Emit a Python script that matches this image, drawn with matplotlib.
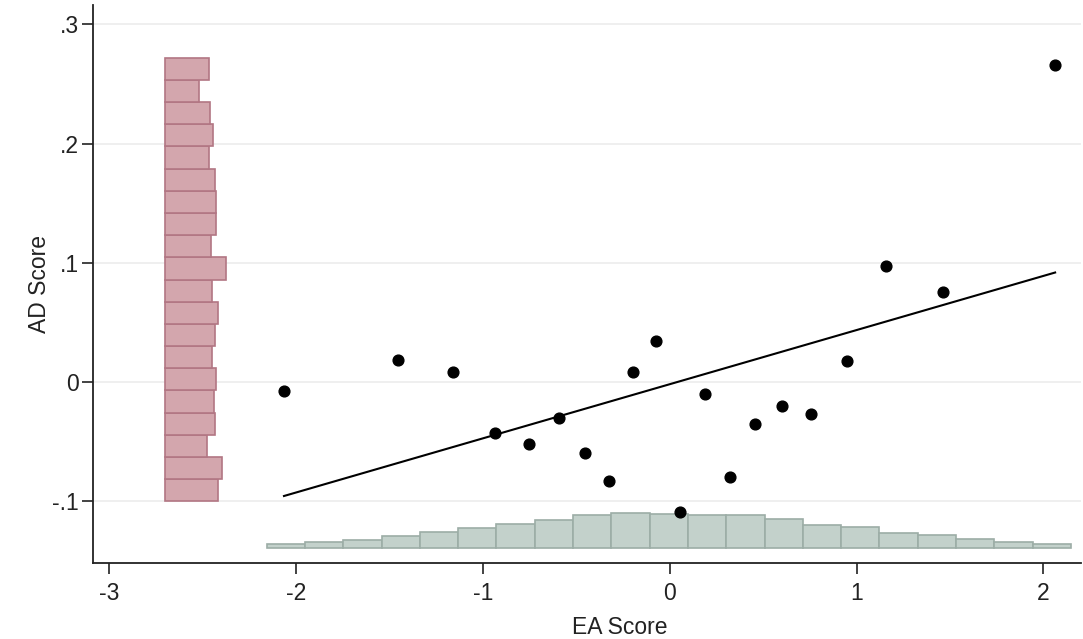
import matplotlib.pyplot as plt
import numpy as np

plt.rcParams['font.family'] = ['Liberation Sans', 'DejaVu Sans']

# scatter points (EA score, AD score)
ea = [-2.064, -1.455, -1.162, -0.936, -0.754, -0.592, -0.455, -0.322, -0.196, -0.071,
      0.057, 0.191, 0.322, 0.456, 0.602, 0.754, 0.947, 1.160, 1.463, 2.063]
ad = [-0.0075, 0.0184, 0.0084, -0.0430, -0.0517, -0.0305, -0.0598, -0.0830, 0.0081, 0.0341,
      -0.1087, -0.0103, -0.0794, -0.0352, -0.0204, -0.0266, 0.0179, 0.0970, 0.0752, 0.2660]

# fitted line as drawn in the chart
fit_slope = 0.0454
fit_intercept = -0.0018

# left marginal histogram of AD score (bins bottom to top, bar lengths in x units)
ad_bin_lo = -0.1
ad_bin_hi = 0.272
ad_counts = [0.282, 0.306, 0.223, 0.266, 0.260, 0.273, 0.251, 0.266, 0.283, 0.250,
             0.325, 0.246, 0.273, 0.273, 0.266, 0.234, 0.255, 0.242, 0.180, 0.237]
ad_hist_base = -2.70

# bottom marginal histogram of EA score (bar heights in y units)
ea_bin_lo = -2.157
ea_bin_hi = 2.148
ea_counts = [0.0028, 0.0050, 0.0065, 0.0096, 0.0134, 0.0163, 0.0199, 0.0232, 0.0277, 0.0288,
             0.0282, 0.0272, 0.0272, 0.0241, 0.0188, 0.0176, 0.0126, 0.0106, 0.0073, 0.0050, 0.0031]
ea_hist_base = -0.1389

fig = plt.figure(figsize=(10.83, 6.39), dpi=100)
ax = fig.add_axes([0.0859, 0.1189, 0.912, 0.873])

# gridlines
ax.set_yticks([-0.1, 0, 0.1, 0.2, 0.3])
ax.set_yticklabels(['-.1', '0', '.1', '.2', '.3'])
ax.set_xticks([-3, -2, -1, 0, 1, 2])
ax.set_xticklabels(['-3', '-2', '-1', '0', '1', '2'])
ax.yaxis.grid(True, color='#ececec', linewidth=1.2)
ax.set_axisbelow(True)

# left histogram (horizontal bars)
ad_edges = np.linspace(ad_bin_lo, ad_bin_hi, len(ad_counts) + 1)
ax.barh(ad_edges[:-1], ad_counts, height=np.diff(ad_edges), left=ad_hist_base,
        align='edge', color='#d3a6ad', edgecolor='#b27683', linewidth=1.2, zorder=2)

# bottom histogram
ea_edges = np.linspace(ea_bin_lo, ea_bin_hi, len(ea_counts) + 1)
ax.bar(ea_edges[:-1], ea_counts, width=np.diff(ea_edges), bottom=ea_hist_base,
       align='edge', color='#c3d1cb', edgecolor='#9cada6', linewidth=1.2, zorder=2)

# fitted line
xs = np.array([min(ea), max(ea)])
ax.plot(xs, fit_intercept + fit_slope * xs, color='black', linewidth=1.5, zorder=3)

ax.scatter(ea, ad, s=60, color='black', zorder=4)

ax.set_xlim(-3.086, 2.2)
ax.set_ylim(-0.1517, 0.316)

for side in ['top', 'right']:
    ax.spines[side].set_visible(False)
for side in ['left', 'bottom']:
    ax.spines[side].set_linewidth(1.3)
    ax.spines[side].set_color('#222222')

ax.tick_params(axis='both', length=8, width=1.2, labelsize=16.5, colors='#222222')
ax.tick_params(axis='x', pad=6)
ax.tick_params(axis='y', pad=2)
ax.set_xlabel('EA Score', fontsize=16.5, color='#222222')
ax.xaxis.set_label_coords(0.533, -0.095)
ax.set_ylabel('AD Score', fontsize=16.5, color='#222222', labelpad=1)

plt.savefig('out.png', dpi=100)
